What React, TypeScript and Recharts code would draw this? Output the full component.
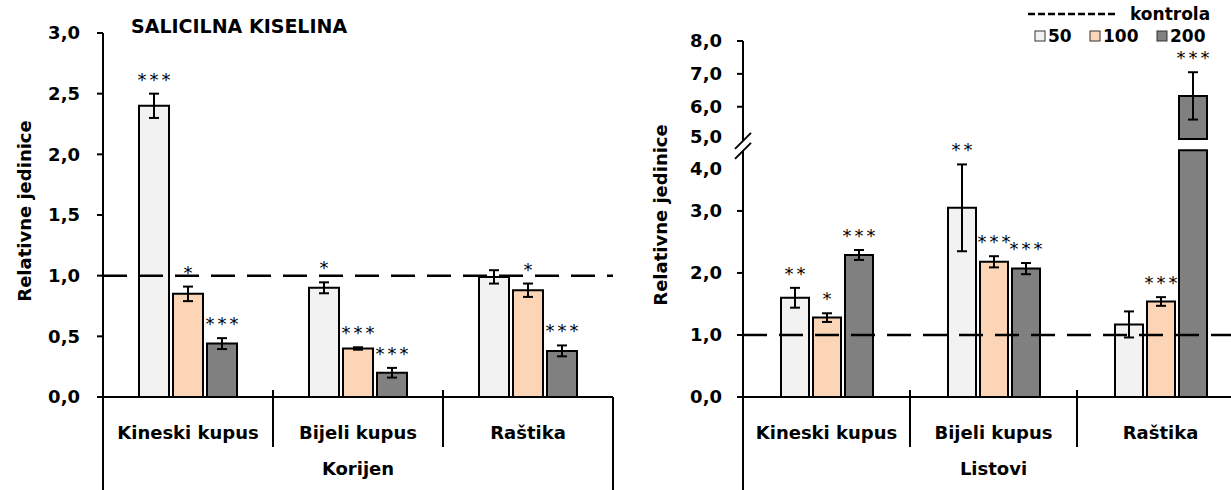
import React from "react";
import { BarChart, Bar, XAxis, YAxis, ErrorBar, LabelList, ReferenceLine, Legend } from "recharts";

const FONT = "'DejaVu Sans', sans-serif";

const categories = ["Kineski kupus", "Bijeli kupus", "Raštika"];
const seriesNames = ["50", "100", "200"];
const seriesColors = ["#f2f2f2", "#fbd5b5", "#808080"];
const controlName = "kontrola";

// Korijen
const rootMean50 = [2.4, 0.9, 0.99];
const rootErr50 = [0.1, 0.045, 0.055];
const rootSig50 = ["***", "*", ""];
const rootMean100 = [0.85, 0.4, 0.88];
const rootErr100 = [0.06, 0.01, 0.055];
const rootSig100 = ["*", "***", "*"];
const rootMean200 = [0.44, 0.2, 0.38];
const rootErr200 = [0.045, 0.04, 0.045];
const rootSig200 = ["***", "***", "***"];
const rootTicks = [0, 0.5, 1, 1.5, 2, 2.5, 3];

// Listovi
const leafMean50 = [1.6, 3.05, 1.17];
const leafErr50 = [0.16, 0.7, 0.21];
const leafSig50 = ["**", "**", ""];
const leafMean100 = [1.28, 2.18, 1.54];
const leafErr100 = [0.07, 0.09, 0.07];
const leafSig100 = ["*", "***", "***"];
const leafMean200 = [2.29, 2.07, 6.33];
const leafErr200 = [0.08, 0.09, 0.72];
const leafSig200 = ["***", "***", "***"];
const leafTicks = [0, 1, 2, 3, 4, 5, 6, 7, 8];

const CONTROL = 1;

// broken axis: 0-4 at full scale, 5-8 compressed
const BREAK_LO = 3.98;
const BREAK_HI = 4.16;
const brk = (v: number) => (v <= 4 ? v : 4.15 + (v - 5) * 0.53);
const errPair = (v: number, e: number) => [brk(v) - brk(v - e), brk(v + e) - brk(v)];

const rootRows = categories.map((cat, i) => ({
  cat,
  v50: rootMean50[i], e50: rootErr50[i], s50: rootSig50[i],
  v100: rootMean100[i], e100: rootErr100[i], s100: rootSig100[i],
  v200: rootMean200[i], e200: rootErr200[i], s200: rootSig200[i],
}));

const leafRows = categories.map((cat, i) => {
  const d200 = brk(leafMean200[i]);
  const broken = d200 > BREAK_HI;
  return {
    cat,
    v50: leafMean50[i], e50: errPair(leafMean50[i], leafErr50[i]), s50: leafSig50[i],
    v100: leafMean100[i], e100: errPair(leafMean100[i], leafErr100[i]), s100: leafSig100[i],
    lo: broken ? BREAK_LO : d200,
    gap: broken ? BREAK_HI - BREAK_LO : 0,
    hi: broken ? d200 - BREAK_HI : 0,
    eLo: broken ? null : errPair(leafMean200[i], leafErr200[i]),
    eHi: broken ? errPair(leafMean200[i], leafErr200[i]) : null,
    sLo: broken ? "" : leafSig200[i],
    sHi: broken ? leafSig200[i] : "",
  };
});

const AXIS = { stroke: "#000", strokeWidth: 2 };
const fmt = (v: number) => v.toFixed(1).replace(".", ",");

// label value carries the stars, the upper error and the drawn segment value
const starKey = (valKey: string, errKey: string, sigKey: string) => (row: any) => {
  if (!row || !row[sigKey]) return "";
  const err = row[errKey];
  const up = Array.isArray(err) ? err[1] : err || 0;
  return `${row[sigKey]}|${up}|${row[valKey]}`;
};

const StarLabel = (props: any) => {
  const { value } = props;
  const vb = props.viewBox || props;
  if (!value || typeof value !== "string" || vb == null) return null;
  const [sig, upS, segS] = value.split("|");
  const up = Number(upS);
  const seg = Number(segS);
  const ppu = seg ? Math.abs(vb.height) / seg : 0;
  const top = Math.min(vb.y, vb.y + vb.height) - up * ppu;
  return (
    <text x={vb.x + vb.width / 2 + 1.5} y={top - 8} textAnchor="middle" fill="#000"
      style={{ fontFamily: FONT, fontSize: 18, letterSpacing: 3 }}>
      {sig}
    </text>
  );
};

const CatTick = (props: any) => {
  const { x, y, payload } = props;
  return (
    <text x={x} y={y + 42} textAnchor="middle" fill="#000"
      style={{ fontFamily: FONT, fontSize: 18, fontWeight: 700 }}>
      {payload.value}
    </text>
  );
};

const groupLabel = (name: string) => (props: any) => {
  const { x, y, width, height } = props.viewBox;
  const band = width / categories.length;
  return (
    <g>
      <line x1={x} x2={x} y1={y} y2={y + height} stroke="#000" strokeWidth={2} />
      <line x1={x + width} x2={x + width} y1={y} y2={y + height} stroke="#000" strokeWidth={2} />
      {categories.slice(1).map((c, i) => (
        <line key={c} x1={x + band * (i + 1)} x2={x + band * (i + 1)} y1={y - 7} y2={y + 50}
          stroke="#000" strokeWidth={2} />
      ))}
      <text x={x + width / 2} y={y + 78} textAnchor="middle" fill="#000"
        style={{ fontFamily: FONT, fontSize: 18, fontWeight: 700 }}>
        {name}
      </text>
    </g>
  );
};

const yTitle = (cx: number) => (props: any) => {
  const { y, height } = props.viewBox;
  const cy = y + height / 2 - 4;
  return (
    <text x={cx} y={cy} transform={`rotate(-90, ${cx}, ${cy})`} textAnchor="middle"
      dominantBaseline="central" fill="#000" style={{ fontFamily: FONT, fontSize: 18, fontWeight: 700 }}>
      Relativne jedinice
    </text>
  );
};

const LEAF_TICK_SIZE = 6;
const LEAF_TICK_MARGIN = 15;

const LeafTick = (props: any) => {
  const { x, y, payload } = props;
  const v = leafTicks.find((t) => Math.abs(brk(t) - payload.value) < 1e-6);
  if (v == null) return null;
  const ax = x + LEAF_TICK_MARGIN + LEAF_TICK_SIZE;
  const txt = (dy: number) => (
    <text x={x} y={y + dy} dy="0.36em" textAnchor="end" fill="#000"
      style={{ fontFamily: FONT, fontSize: 18, fontWeight: 700 }}>
      {fmt(v)}
    </text>
  );
  if (v === 4) {
    const yc = y - 3;
    return (
      <g>
        <rect x={ax - 3} y={yc - 5} width={6} height={10} fill="#fff" />
        <line x1={ax - 8} y1={yc + 3} x2={ax + 8} y2={yc - 13} stroke="#000" strokeWidth={2} />
        <line x1={ax - 8} y1={yc + 13} x2={ax + 8} y2={yc - 3} stroke="#000" strokeWidth={2} />
        {txt(20)}
      </g>
    );
  }
  if (v === 5) return txt(-3);
  return (
    <g>
      <line x1={ax - LEAF_TICK_SIZE} x2={ax} y1={y} y2={y} stroke="#000" strokeWidth={2} />
      {txt(0)}
    </g>
  );
};

const LegendBox = () => {
  const itemX = [7, 62, 129];
  return (
    <svg width={200} height={50} style={{ overflow: "visible" }}>
      <line x1={0} x2={87} y1={14} y2={14} stroke="#000" strokeWidth={2.5} strokeDasharray="7 3" />
      <text x={102} y={20} fill="#000" style={{ fontFamily: FONT, fontSize: 17, fontWeight: 700 }}>
        {controlName}
      </text>
      {seriesNames.map((s, i) => (
        <g key={s}>
          <rect x={itemX[i]} y={31} width={10} height={10} fill={seriesColors[i]} stroke="#333" strokeWidth={1} />
          <text x={itemX[i] + 13} y={42} fill="#000" style={{ fontFamily: FONT, fontSize: 17, fontWeight: 700 }}>
            {s}
          </text>
        </g>
      ))}
    </svg>
  );
};

export default function App() {
  return (
    <div style={{ position: "absolute", left: 0, top: 0, width: 1231, height: 490, overflow: "hidden", background: "#fff", fontFamily: FONT }}>
      <div style={{ position: "absolute", left: 0, top: 0 }}>
        <BarChart width={620} height={490} data={rootRows} margin={{ top: 33, right: 7, left: 0, bottom: 0 }} barSize={30} barGap={4}>
          <XAxis dataKey="cat" height={93} interval={0} tickLine={false} tickSize={0} tickMargin={0}
            tick={(p: any) => <CatTick {...p} />} axisLine={AXIS} label={{ content: groupLabel("Korijen") }} />
          <YAxis width={103} domain={[0, 3]} ticks={rootTicks} interval={0} tickSize={6} tickMargin={17}
            tickLine={AXIS} axisLine={AXIS} tickFormatter={fmt}
            tick={{ fill: "#000", fontSize: 18, fontWeight: 700, fontFamily: FONT }}
            label={{ content: yTitle(24) }} />
          <Bar dataKey="v50" stackId="a" fill={seriesColors[0]} stroke="#000" strokeWidth={2} isAnimationActive={false}>
            <ErrorBar dataKey="e50" width={5} strokeWidth={2} stroke="#000" />
            <LabelList dataKey={starKey("v50", "e50", "s50")} content={StarLabel} />
          </Bar>
          <Bar dataKey="v100" stackId="b" fill={seriesColors[1]} stroke="#000" strokeWidth={2} isAnimationActive={false}>
            <ErrorBar dataKey="e100" width={5} strokeWidth={2} stroke="#000" />
            <LabelList dataKey={starKey("v100", "e100", "s100")} content={StarLabel} />
          </Bar>
          <Bar dataKey="v200" stackId="c" fill={seriesColors[2]} stroke="#000" strokeWidth={2} isAnimationActive={false}>
            <ErrorBar dataKey="e200" width={5} strokeWidth={2} stroke="#000" />
            <LabelList dataKey={starKey("v200", "e200", "s200")} content={StarLabel} />
          </Bar>
          <ReferenceLine y={CONTROL} stroke="#000" strokeWidth={2.5} strokeDasharray="24 12" />
        </BarChart>
      </div>
      <div style={{ position: "absolute", left: 131, top: 17, fontFamily: FONT, fontSize: 19, fontWeight: 700, lineHeight: "19px", whiteSpace: "nowrap", color: "#000" }}>
        SALICILNA KISELINA
      </div>
      <div style={{ position: "absolute", left: 620, top: 0 }}>
        <BarChart width={624} height={490} data={leafRows} margin={{ top: 41, right: 0, left: 0, bottom: 0 }} barSize={28} barGap={4}>
          <XAxis dataKey="cat" height={93} interval={0} tickLine={false} tickSize={0} tickMargin={0}
            tick={(p: any) => <CatTick {...p} />} axisLine={AXIS} label={{ content: groupLabel("Listovi") }} />
          <YAxis width={123} domain={[0, brk(8)]} ticks={leafTicks.map(brk)} interval={0}
            tickSize={LEAF_TICK_SIZE} tickMargin={LEAF_TICK_MARGIN} tickLine={false} axisLine={AXIS}
            tick={(p: any) => <LeafTick {...p} />} label={{ content: yTitle(40) }} />
          <Bar dataKey="v50" stackId="a" fill={seriesColors[0]} stroke="#000" strokeWidth={2} isAnimationActive={false}>
            <ErrorBar dataKey="e50" width={5} strokeWidth={2} stroke="#000" />
            <LabelList dataKey={starKey("v50", "e50", "s50")} content={StarLabel} />
          </Bar>
          <Bar dataKey="v100" stackId="b" fill={seriesColors[1]} stroke="#000" strokeWidth={2} isAnimationActive={false}>
            <ErrorBar dataKey="e100" width={5} strokeWidth={2} stroke="#000" />
            <LabelList dataKey={starKey("v100", "e100", "s100")} content={StarLabel} />
          </Bar>
          <Bar dataKey="lo" stackId="c" fill={seriesColors[2]} stroke="#000" strokeWidth={2} isAnimationActive={false}>
            <ErrorBar dataKey="eLo" width={5} strokeWidth={2} stroke="#000" />
            <LabelList dataKey={starKey("lo", "eLo", "sLo")} content={StarLabel} />
          </Bar>
          <Bar dataKey="gap" stackId="c" fill="none" stroke="none" isAnimationActive={false} />
          <Bar dataKey="hi" stackId="c" fill={seriesColors[2]} stroke="#000" strokeWidth={2} isAnimationActive={false}>
            <ErrorBar dataKey="eHi" width={5} strokeWidth={2} stroke="#000" />
            <LabelList dataKey={starKey("hi", "eHi", "sHi")} content={StarLabel} />
          </Bar>
          <ReferenceLine y={brk(CONTROL)} stroke="#000" strokeWidth={2.5} strokeDasharray="24 12" />
          <Legend layout="horizontal" verticalAlign="middle" align="center"
            wrapperStyle={{ left: 408, top: 0, width: 200, height: 50 }} content={() => <LegendBox />} />
        </BarChart>
      </div>
    </div>
  );
}
